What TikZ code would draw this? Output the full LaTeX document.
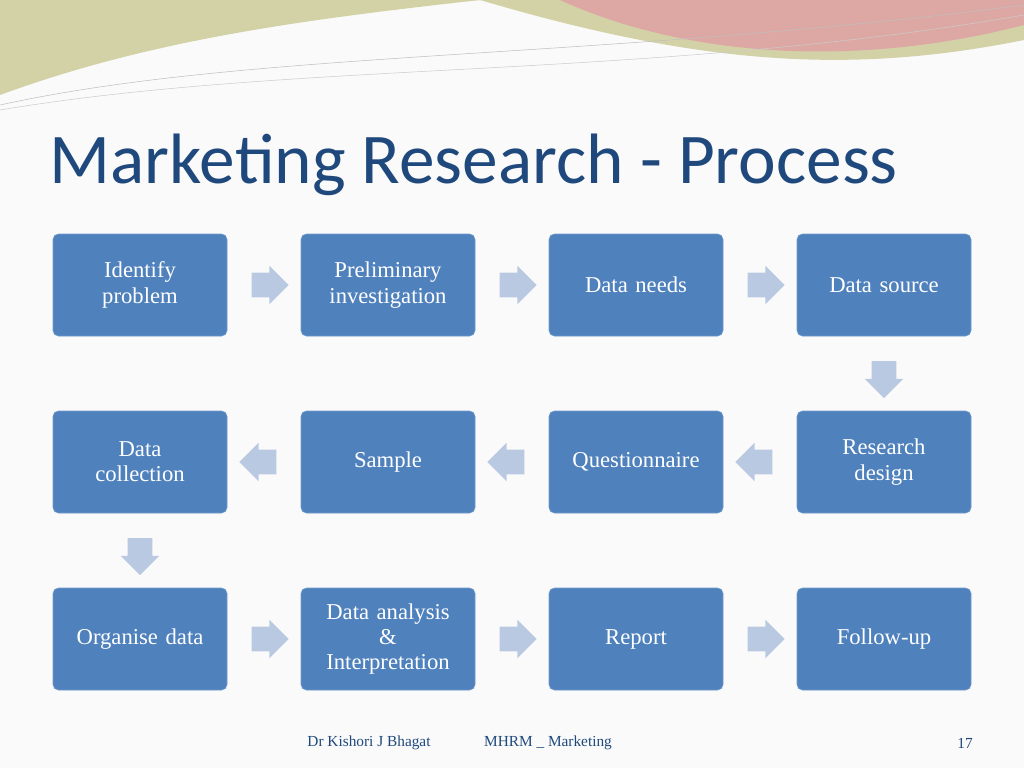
\documentclass[tikz,border=0pt]{standalone}
\usepackage{fontspec}
\setmainfont{Liberation Serif}
\newfontfamily\titlefont{Carlito}
\usetikzlibrary{positioning,shapes.arrows,calc}
\definecolor{boxblue}{HTML}{4F81BD}
\definecolor{arrowblue}{HTML}{B9C9E2}
\definecolor{titleblue}{HTML}{1F497D}
\definecolor{wavepink}{HTML}{DDA8A4}
\definecolor{wavegreen}{HTML}{D3D2A6}
\tikzset{
  stepbox/.style={draw=boxblue!80!white,fill=boxblue,rounded corners=4pt,text=white,
    minimum width=174*0.75pt,minimum height=102*0.75pt,text width=160*0.75pt,align=center,
    font=\fontsize{17}{19}\selectfont},
  flowarrow/.style={single arrow,fill=arrowblue,draw=none,minimum height=36*0.75pt,
    single arrow head extend=7*0.75pt,inner sep=12*0.75pt}
}
\begin{document}
\begin{tikzpicture}[x=0.75pt,y=-0.75pt]
  \useasboundingbox (0,0) rectangle (1024,768);
  \fill[gray!4] (0,0) rectangle (1024,768);
  % top waves
  \fill[wavegreen] (0,0) -- (1024,0) -- (1024,40) .. controls (850,75) and (700,65) .. (480,0) -- cycle;
  \fill[wavegreen] (0,0) -- (0,95) .. controls (150,40) and (300,20) .. (480,0) -- cycle;
  \fill[wavepink] (560,0) .. controls (680,55) and (850,70) .. (1024,25) -- (1024,0) -- cycle;
  \draw[gray!50] (0,105) .. controls (250,50) and (600,60) .. (1024,5);
  \draw[gray!40] (0,110) .. controls (300,60) and (650,80) .. (1024,15);
  \node[anchor=west,text=titleblue,font=\titlefont\fontsize{53.5}{57}\selectfont] (title) at (45,165) {Marketing Research - Process};
  % boxes
  \node[stepbox] (identify) at (140,285) {Identify\\problem};
  \node[stepbox] (prelim) at (388,285) {Preliminary\\investigation};
  \node[stepbox] (needs) at (636,285) {Data needs};
  \node[stepbox] (source) at (884,285) {Data source};
  \node[stepbox] (collect) at (140,462) {Data\\collection};
  \node[stepbox] (sample) at (388,462) {Sample};
  \node[stepbox] (quest) at (636,462) {Questionnaire};
  \node[stepbox] (design) at (884,462) {Research\\design};
  \node[stepbox] (organise) at (140,639) {Organise data};
  \node[stepbox] (analysis) at (388,639) {Data analysis\\\&\\Interpretation};
  \node[stepbox] (report) at (636,639) {Report};
  \node[stepbox] (follow) at (884,639) {Follow-up};
  % arrows
  \node[flowarrow] (a1) at ($(identify)!0.5!(prelim)$) {};
  \node[flowarrow] (a2) at ($(prelim)!0.5!(needs)$) {};
  \node[flowarrow] (a3) at ($(needs)!0.5!(source)$) {};
  \node[flowarrow,shape border rotate=270] (a4) at ($(source)!0.5!(design)$) {};
  \node[flowarrow,shape border rotate=180] (a5) at ($(design)!0.5!(quest)$) {};
  \node[flowarrow,shape border rotate=180] (a6) at ($(quest)!0.5!(sample)$) {};
  \node[flowarrow,shape border rotate=180] (a7) at ($(sample)!0.5!(collect)$) {};
  \node[flowarrow,shape border rotate=270] (a8) at ($(collect)!0.5!(organise)$) {};
  \node[flowarrow] (a9) at ($(organise)!0.5!(analysis)$) {};
  \node[flowarrow] (a10) at ($(analysis)!0.5!(report)$) {};
  \node[flowarrow] (a11) at ($(report)!0.5!(follow)$) {};
  % footer
  \node[text=titleblue,font=\fontsize{11.5}{13}\selectfont] (author) at (369,743) {Dr Kishori J Bhagat};
  \node[text=titleblue,font=\fontsize{11.5}{13}\selectfont] (course) at (548,743) {MHRM \_ Marketing};
  \node[text=titleblue,font=\fontsize{11.5}{13}\selectfont] (page) at (965,743) {17};
\end{tikzpicture}
\end{document}
